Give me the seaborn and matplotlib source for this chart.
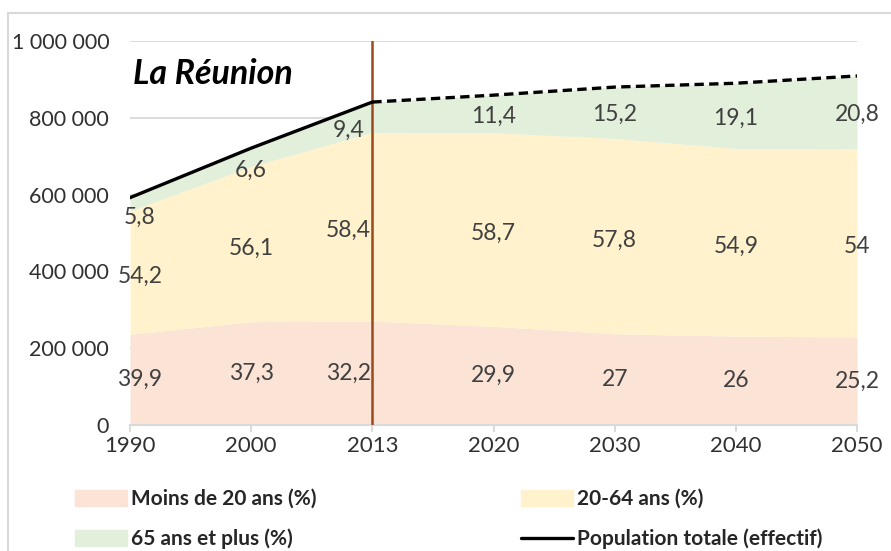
import numpy as np
import pandas as pd
import matplotlib.pyplot as plt
import seaborn as sns
from matplotlib.lines import Line2D
from matplotlib.patches import Patch
from matplotlib.ticker import FuncFormatter

# --- Data ---
years = ['1990', '2000', '2013', '2020', '2030', '2040', '2050']
total = [592000, 721000, 841000, 859000, 880000, 890000, 909000]
moins20 = [39.9, 37.3, 32.2, 29.9, 27, 26, 25.2]
age20_64 = [54.2, 56.1, 58.4, 58.7, 57.8, 54.9, 54]
plus65 = [5.8, 6.6, 9.4, 11.4, 15.2, 19.1, 20.8]

series_names = ['Moins de 20 ans (%)', '20-64 ans (%)', '65 ans et plus (%)']
line_name = 'Population totale (effectif)'

sns.set_theme(style='white')
plt.rcParams['font.family'] = ['Lato', 'DejaVu Sans']

colors = ['#FBE3D6', '#FFF2CC', '#E2EFDA']
label_color = '#404040'

df = pd.DataFrame({'annee': years, 'x': np.arange(len(years)), 'total': total,
                   'moins20': moins20, 'age20_64': age20_64, 'plus65': plus65})
tot = df['total'].to_numpy(float)
bands = [tot * df[c].to_numpy() / 100 for c in ['moins20', 'age20_64', 'plus65']]

fig = plt.figure(figsize=(8.91, 5.51), dpi=100)
ax = fig.add_axes([130 / 891, 1 - 425 / 551, 727 / 891, 384 / 551])

# stacked areas
ax.stackplot(df['x'], *bands, colors=colors, linewidth=0, zorder=1)

# total population: observed (solid) then projected (dashed)
sns.lineplot(data=df.iloc[:3], x='x', y='total', color='black', lw=2.4, ax=ax, zorder=4)
sns.lineplot(data=df.iloc[2:], x='x', y='total', color='black', lw=2.4, ax=ax, zorder=4,
             dashes=False, linestyle=(0, (2.8, 1.6)))

# separation observed / projection
ax.axvline(2, ymin=0, ymax=1, color='#9A4A1C', lw=1.8, zorder=3)

# value labels in the middle of each band
x_shift = {0: 10, 2: -24}
green_dy = [-13, -13, -13, -2, -2, -2, -2]
bottom = np.zeros(len(years))
for k, (b, vals) in enumerate(zip(bands, [moins20, age20_64, plus65])):
    mid = bottom + b / 2
    for i, v in enumerate(vals):
        txt = f'{v:g}'.replace('.', ',')
        dy = green_dy[i] if k == 2 else (-4 if k == 1 else 0)
        ax.annotate(txt, (i, mid[i]), xytext=(x_shift.get(i, 0) * 0.72, dy * 0.72),
                    textcoords='offset points', ha='center', va='center',
                    fontsize=16.5, color=label_color, zorder=5)
    bottom = bottom + b

ax.text(0.004, 0.913, 'La Réunion', transform=ax.transAxes, fontsize=24.5,
        fontweight='bold', fontstyle='italic', color='black', va='center', ha='left')

# axes styling
ax.set_xlim(0, len(years) - 1)
ax.set_ylim(0, 1000000)
ax.set_xticks(df['x'])
ax.set_xticklabels(years)
ax.set_yticks(np.arange(0, 1000001, 200000))
ax.yaxis.set_major_formatter(FuncFormatter(lambda v, p: f'{int(v):,}'.replace(',', ' ')))
ax.grid(axis='y', color='#D9D9D9', lw=1.3, zorder=0)
ax.set_axisbelow(True)
for s in ['left', 'right', 'top']:
    ax.spines[s].set_visible(False)
ax.spines['bottom'].set_color('#D9D9D9')
ax.spines['bottom'].set_linewidth(1.5)
ax.tick_params(axis='x', length=5, width=1.3, color='#D9D9D9', pad=3,
               labelsize=16, labelcolor='#303030', bottom=True)
ax.tick_params(axis='y', length=0, pad=15, labelsize=15.5, labelcolor='#303030')
ax.set_xlabel('')
ax.set_ylabel('')

# legend (filled column-wise: row1 = Moins / 20-64, row2 = 65+ / Population)
handles = [Patch(color=colors[0]), Patch(color=colors[2]),
           Patch(color=colors[1]), Line2D([], [], color='black', lw=2.4)]
labels = [series_names[0], series_names[2], series_names[1], line_name]
fig.legend(handles, labels, ncol=2, loc='upper left', bbox_to_anchor=(75 / 891, 1 - 489 / 551),
           frameon=False, borderpad=0, borderaxespad=0, handlelength=2.5, handleheight=0.8,
           handletextpad=0.2, columnspacing=9.8, labelspacing=0.95,
           prop={'weight': 'bold', 'size': 15})

# chart frame (light grey border, cut at the right and bottom)
fig.add_artist(Line2D([8 / 891, 8 / 891], [0, 1 - 13 / 551], color='#D9D9D9', lw=1.5))
fig.add_artist(Line2D([8 / 891, 1], [1 - 13 / 551, 1 - 13 / 551], color='#D9D9D9', lw=1.5))

fig.savefig('out.png', dpi=100)
plt.close(fig)
